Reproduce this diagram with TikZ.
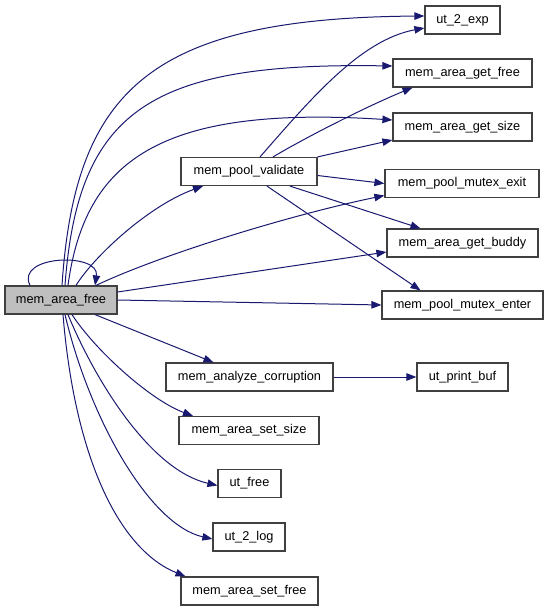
\documentclass[tikz,border=0pt]{standalone}
\usepackage{fontspec}
\setmainfont{Liberation Sans}
\usetikzlibrary{arrows.meta}
\definecolor{edgeblue}{RGB}{25,25,112}
\definecolor{boxborder}{RGB}{64,64,64}
\definecolor{boxfill}{RGB}{191,191,191}
\begin{document}
\begin{tikzpicture}[x=1pt,y=-1pt,
  fn/.style={draw=boxborder,line width=1.2pt,fill=white,inner sep=0pt,minimum height=28pt,
    font=\fontsize{12.75}{15}\selectfont},
  cur/.style={fn,fill=boxfill},
  call/.style={draw=edgeblue,line width=1pt,-{Triangle[length=10pt,width=7.5pt]}}]
\useasboundingbox (0,0) rectangle (549,611);
% nodes
\node[cur,minimum width=112pt] (A)  at (61,300)    {mem\_area\_free};
\node[fn,minimum width=136pt]  (V)  at (249,171.5) {mem\_pool\_validate};
\node[fn,minimum width=75pt]   (E)  at (462.5,20)  {ut\_2\_exp};
\node[fn,minimum width=139pt]  (GF) at (462.5,73)  {mem\_area\_get\_free};
\node[fn,minimum width=139pt]  (GS) at (462.5,127) {mem\_area\_get\_size};
\node[fn,minimum width=154pt]  (MX) at (462,183.5) {mem\_pool\_mutex\_exit};
\node[fn,minimum width=151pt]  (GB) at (462.5,243) {mem\_area\_get\_buddy};
\node[fn,minimum width=161pt]  (ME) at (462.5,305) {mem\_pool\_mutex\_enter};
\node[fn,minimum width=167pt]  (AC) at (249.5,377) {mem\_analyze\_corruption};
\node[fn,minimum width=91pt]   (PB) at (462.5,377) {ut\_print\_buf};
\node[fn,minimum width=140pt]  (SS) at (249,430.5) {mem\_area\_set\_size};
\node[fn,minimum width=63pt]   (UF) at (249.5,483.5) {ut\_free};
\node[fn,minimum width=72pt]   (UL) at (249,537)   {ut\_2\_log};
\node[fn,minimum width=137pt]  (SF) at (249.5,591) {mem\_area\_set\_free};
% edges from mem_area_free
\draw[call] ([xshift=-31pt]A.north) .. controls (15,255) and (100,252) .. ([xshift=34pt]A.north);
\draw[call] ([xshift=1pt]A.north) .. controls (75,90) and (150,18) .. ([yshift=4pt]E.west);
\draw[call] ([xshift=4pt]A.north) .. controls (78,110) and (150,62) .. ([yshift=7pt]GF.west);
\draw[call] ([xshift=7pt]A.north) .. controls (85,160) and (160,105) .. ([yshift=7pt]GS.west);
\draw[call] ([xshift=15pt]A.north) .. controls (95,255) and (150,205) .. ([xshift=-46pt]V.south);
\draw[call] ([xshift=35pt]A.north) .. controls (160,255) and (290,215) .. ([yshift=-12pt]MX.west);
\draw[call] ([yshift=8pt]A.east) -- ([yshift=-9pt]GB.west);
\draw[call] ([yshift=0pt]A.east) -- (ME.west);
\draw[call] ([xshift=34pt]A.south) -- ([xshift=-36pt]AC.north);
\draw[call] ([xshift=11pt]A.south) .. controls (95,350) and (150,400) .. ([xshift=-56pt]SS.north);
\draw[call] ([xshift=7pt]A.south) .. controls (95,380) and (150,470) .. ([yshift=-2pt]UF.west);
\draw[call] ([xshift=4pt]A.south) .. controls (90,420) and (150,525) .. ([yshift=-2pt]UL.west);
\draw[call] ([xshift=2pt]A.south) .. controls (75,460) and (120,550) .. ([xshift=-64pt]SF.north);
% edges from mem_pool_validate
\draw[call] ([xshift=11pt]V.north) .. controls (310,100) and (360,40) .. ([yshift=-8pt]E.west);
\draw[call] ([xshift=24pt]V.north) .. controls (310,135) and (370,105) .. ([xshift=-50pt]GF.south);
\draw[call] (V.north east) -- ([yshift=-13pt]GS.west);
\draw[call] ([yshift=-4pt]V.east) -- (MX.west);
\draw[call] ([xshift=41pt]V.south) -- ([xshift=-42pt]GB.north);
\draw[call] ([xshift=18pt]V.south) -- ([xshift=-42pt]ME.north);
% other
\draw[call] (AC.east) -- (PB.west);
\end{tikzpicture}
\end{document}
